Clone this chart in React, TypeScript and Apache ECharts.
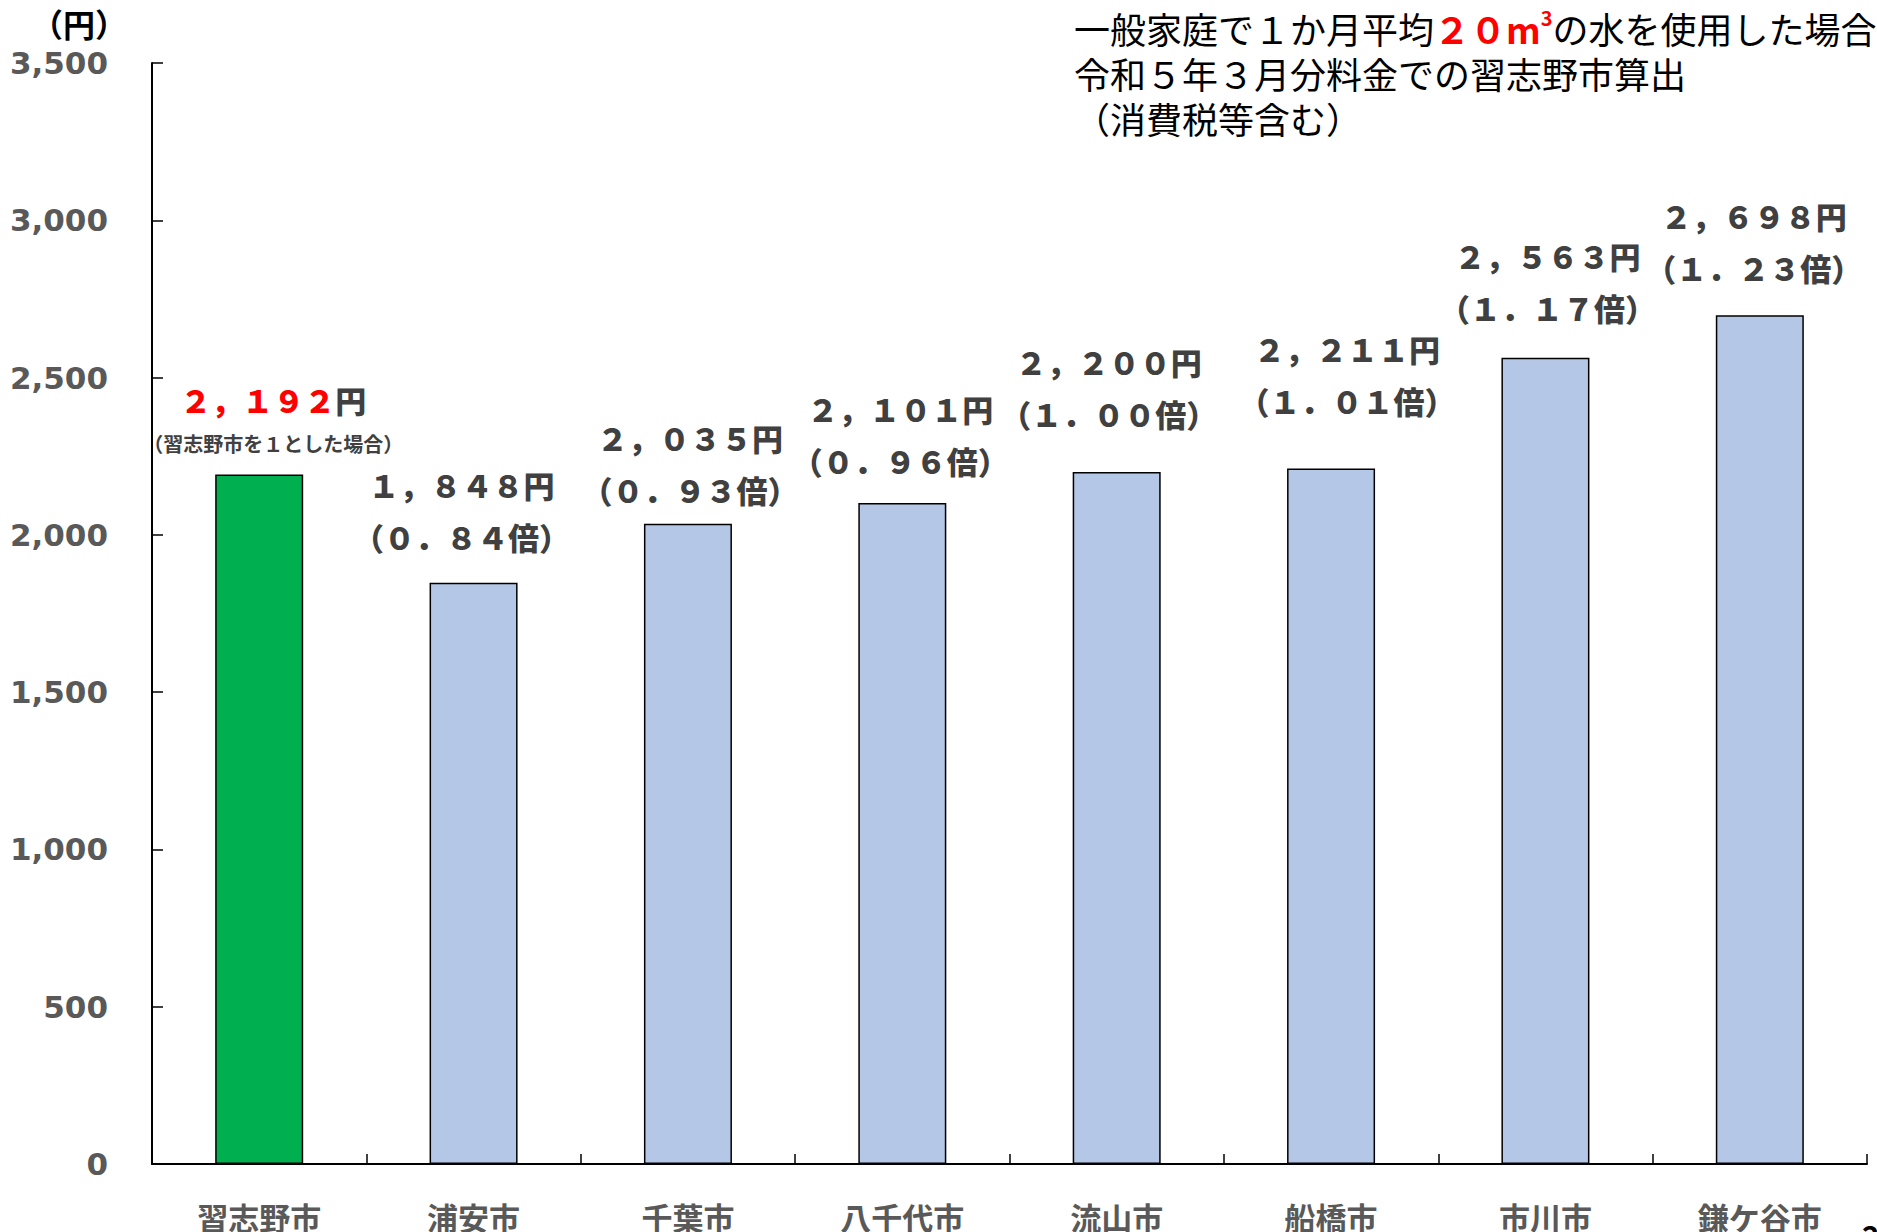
import React, { useEffect, useRef } from 'react';
import * as echarts from 'echarts';

// ---- data ----
const categories = ['習志野市', '浦安市', '千葉市', '八千代市', '流山市', '船橋市', '市川市', '鎌ケ谷市'];
const charges = [2192, 1848, 2035, 2101, 2200, 2211, 2563, 2698];
const yMin = 0;
const yMax = 3500;
const yInterval = 500;
const unitText = '（円）';
const baseNote = '（習志野市を１とした場合）';
const titleLine1a = '一般家庭で１か月平均';
const titleRed = '２０m';
const titleSup = '3';
const titleLine1b = 'の水を使用した場合';
const titleLine2 = '令和５年３月分料金での習志野市算出';
const titleLine3 = '（消費税等含む）';
const pageNumber = '2';

// ---- style ----
const labelShift: [number, number][] = [
  [14, 17], [-12, 20], [2, 8], [-2, 17], [-8, 32], [16, 42], [2, 24], [-6, 22],
];
const JP = '"Noto Sans CJK JP", "Noto Sans", sans-serif';
const toFull = (s: string) =>
  s.replace(/[0-9]/g, (c) => String.fromCharCode(c.charCodeAt(0) + 0xfee0))
    .replace(/,/g, '，')
    .replace(/\./g, '．');

export default function App() {
  const ref = useRef<HTMLDivElement>(null);
  useEffect(() => {
    if (!ref.current) return;
    const chart = echarts.init(ref.current, undefined, { renderer: 'svg' });
    const base = charges[0];
    const option = {
      animation: false,
      backgroundColor: '#ffffff',
      grid: { left: 152, right: 10, top: 63, bottom: 67, containLabel: false },
      xAxis: {
        type: 'category',
        data: categories,
        boundaryGap: true,
        axisLine: { lineStyle: { color: '#000', width: 2 } },
        axisTick: { show: true, inside: true, length: 10, interval: 0, alignWithLabel: false, lineStyle: { color: '#000', width: 1.5 } },
        axisLabel: { interval: 0, margin: 37, color: '#595959', fontSize: 31, fontWeight: 'bold', fontFamily: JP },
        splitLine: { show: false },
      },
      yAxis: {
        type: 'value',
        min: yMin,
        max: yMax,
        interval: yInterval,
        axisLine: { show: true, lineStyle: { color: '#000', width: 2 } },
        axisTick: { show: true, inside: true, length: 11, lineStyle: { color: '#000', width: 1.5 } },
        axisLabel: {
          margin: 44,
          color: '#595959',
          fontSize: 31,
          fontWeight: 'bold',
          fontFamily: '"DejaVu Sans", Verdana, sans-serif',
          formatter: (v: number) => v.toLocaleString('en-US'),
        },
        splitLine: { show: false },
      },
      series: [
        {
          type: 'bar',
          barWidth: 88,
          itemStyle: { color: '#B4C7E7', borderColor: '#000', borderWidth: 1.5 },
          data: charges.map((v, i) => ({
            value: v,
            itemStyle: i === 0 ? { color: '#00B050' } : undefined,
            label: { distance: labelShift[i][1], offset: [labelShift[i][0], 0] },
          })),
          label: {
            show: true,
            position: 'top',
            formatter: (p: any) => {
              const i = p.dataIndex;
              const v = charges[i];
              const valStr = toFull(v.toLocaleString('en-US'));
              if (i === 0) return `{red|${valStr}}{vr|円}\n{s|${baseNote}}`;
              const ratio = toFull((v / base).toFixed(2));
              return `{v|${valStr}円}\n{v|（${ratio}倍）}`;
            },
            rich: {
              v: { fontSize: 31, fontWeight: 900, color: '#404040', lineHeight: 52, fontFamily: JP },
              vr: { fontSize: 31, fontWeight: 900, color: '#404040', lineHeight: 60, fontFamily: JP },
              red: { fontSize: 31, fontWeight: 900, color: '#FF0000', lineHeight: 60, fontFamily: JP },
              s: { fontSize: 20, fontWeight: 'bold', color: '#404040', lineHeight: 28, fontFamily: JP },
            },
          },
        },
      ],
      graphic: [
        {
          type: 'text',
          x: 79,
          y: 23,
          style: {
            text: unitText,
            fill: '#000',
            font: `bold 32px ${JP}`,
            textAlign: 'center',
            textVerticalAlign: 'middle',
          },
        },
        {
          type: 'text',
          x: 1074,
          y: 5,
          style: {
            text: `{a|${titleLine1a}}{r|${titleRed}}{sup|${titleSup}}{a|${titleLine1b}}\n{a|${titleLine2}}\n{a|${titleLine3}}`,
            rich: {
              a: { fontSize: 36, fontFamily: JP, fill: '#000', lineHeight: 45 },
              r: { fontSize: 36, fontFamily: JP, fontWeight: 'bold', fill: '#FF0000', lineHeight: 45 },
              sup: { fontSize: 20, fontFamily: JP, fontWeight: 'bold', fill: '#FF0000', lineHeight: 45, verticalAlign: 'top', padding: [2, 0, 0, 0] },
            },
            textAlign: 'left',
            textVerticalAlign: 'top',
          },
        },
        {
          type: 'text',
          x: 1862,
          y: 1220,
          style: {
            text: pageNumber,
            fill: '#000',
            font: `bold 30px ${JP}`,
            textAlign: 'left',
            textVerticalAlign: 'top',
          },
        },
      ],
    };
    chart.setOption(option as any);
    return () => chart.dispose();
  }, []);
  return (
    <div
      ref={ref}
      style={{ position: 'fixed', left: 0, top: 0, width: 1877, height: 1232, background: '#fff' }}
    />
  );
}
